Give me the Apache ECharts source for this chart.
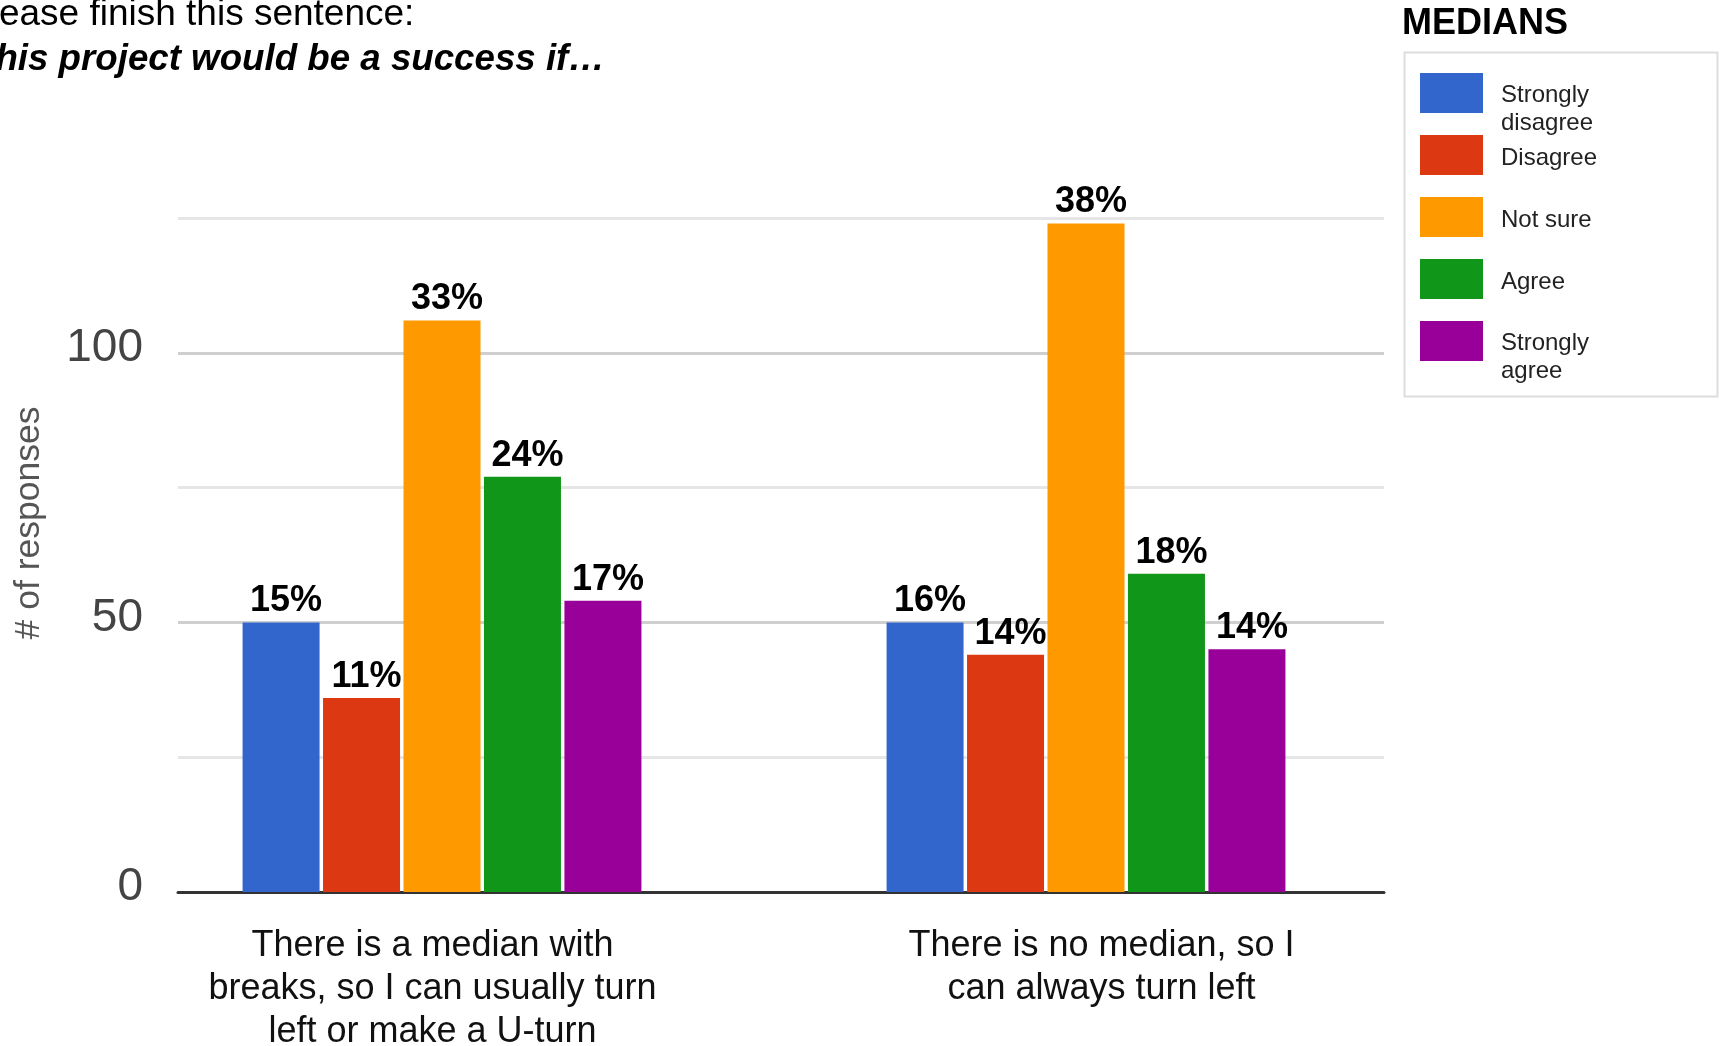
<!DOCTYPE html>
<html><head><meta charset="utf-8">
<script src="https://cdn.jsdelivr.net/npm/echarts@6/dist/echarts.min.js"></script>
<style>html,body{margin:0;padding:0;background:#fff}#c{width:1720px;height:1046px}</style>
</head><body><div id="c"></div>
<script>
// ---- data ----
const categories = [
  "There is a median with\nbreaks, so I can usually turn\nleft or make a U-turn",
  "There is no median, so I\ncan always turn left"
];
const seriesNames = ["Strongly disagree", "Disagree", "Not sure", "Agree", "Strongly agree"];
const legendLabels = ["Strongly\ndisagree", "Disagree", "Not sure", "Agree", "Strongly\nagree"];
const stronglyDisagree = [50, 50];
const disagree = [36, 44];
const notSure = [106, 124];
const agree = [77, 59];
const stronglyAgree = [54, 45];
const pctStronglyDisagree = ["15%", "16%"];
const pctDisagree = ["11%", "14%"];
const pctNotSure = ["33%", "38%"];
const pctAgree = ["24%", "18%"];
const pctStronglyAgree = ["17%", "14%"];
const yTickLabels = [0, 50, 100];
const colors = ["#3366cc", "#dc3912", "#ff9900", "#109618", "#990099"];
const titleLine1 = "Please finish this sentence:";
const titleLine2 = "This project would be a success if\u2026";
const legendTitle = "MEDIANS";
const yName = "# of responses";

const values = [stronglyDisagree, disagree, notSure, agree, stronglyAgree];
const pcts = [pctStronglyDisagree, pctDisagree, pctNotSure, pctAgree, pctStronglyAgree];

const FF = "'Liberation Sans', Arial, Helvetica, sans-serif";
const chart = echarts.init(document.getElementById('c'), null, {renderer: 'canvas'});

const legendTops = [63.5, 135, 197, 259, 311.5];

function legendText(i) {
  const lines = legendLabels[i].split('\n');
  const gap = lines.length > 1 ? '{g2| }' : '{g1| }';
  return gap + '\n' + lines.map(l => '{t|' + l + '}').join('\n');
}

const option = {
  animation: false,
  backgroundColor: '#ffffff',
  textStyle: {fontFamily: FF},
  title: {
    text: legendTitle, left: 1402, top: 6, padding: 0,
    textStyle: {fontFamily: FF, fontWeight: 'bold', fontSize: 36, color: '#000'}
  },
  graphic: [
    {type: 'text', left: -34, top: -4, style: {text: titleLine1, font: "37px " + FF, fill: '#000'}},
    {type: 'text', left: -27, top: 41, style: {text: titleLine2, font: "italic bold 36.7px " + FF, fill: '#000'}},
    {type: 'rect', left: 1402, top: 50, shape: {width: 313, height: 344}, style: {fill: 'none', stroke: '#dddddd', lineWidth: 2}, z: -1}
  ],
  legend: seriesNames.map((n, i) => ({
    data: [n], left: 1420, top: legendTops[i], padding: 0,
    orient: 'vertical', icon: 'rect', itemWidth: 63, itemHeight: 40,
    formatter: () => legendText(i),
    textStyle: {
      fontFamily: FF, fontSize: 24, color: '#222', padding: [0, 0, 0, 13],
      rich: {
        g2: {fontSize: 2, lineHeight: 33},
        g1: {fontSize: 2, lineHeight: 6},
        t: {fontFamily: FF, fontSize: 24, lineHeight: 28.5, color: '#222'}
      }
    }
  })),
  grid: [
    {left: 178, right: 336, top: 218, bottom: 154, containLabel: false, outerBoundsMode: 'none'},
    {left: 120, right: 312, top: 218, bottom: 154, containLabel: false, outerBoundsMode: 'none'},
    {left: 98, right: 284, top: 218, bottom: 154, containLabel: false, outerBoundsMode: 'none'}
  ],
  xAxis: [
    {type: 'category', gridIndex: 0, data: categories,
     axisLine: {show: true, lineStyle: {color: '#333', width: 3}},
     axisTick: {show: false}, axisLabel: {show: false}, splitLine: {show: false}},
    {type: 'category', gridIndex: 1, data: categories,
     axisLine: {show: false}, axisTick: {show: false}, splitLine: {show: false},
     axisLabel: {show: false}},
    {type: 'category', gridIndex: 2, data: categories,
     axisLine: {show: false}, axisTick: {show: false}, splitLine: {show: false},
     axisLabel: {show: true, interval: 0, margin: 33, fontFamily: FF, fontSize: 36, lineHeight: 43, color: '#111', align: 'center'}}
  ],
  yAxis: [
    {type: 'value', gridIndex: 0, min: 0, max: 125, interval: 25,
     name: yName, nameLocation: 'middle', nameGap: 131, nameRotate: 90,
     nameTextStyle: {fontFamily: FF, fontSize: 35.5, color: '#555', padding: [0, 0, 0, 64]},
     axisLine: {show: false}, axisTick: {show: false},
     axisLabel: {margin: 35, fontFamily: FF, fontSize: 46, color: '#444', verticalAlign: 'bottom', lineHeight: 9,
       formatter: v => yTickLabels.indexOf(v) >= 0 ? String(v) : ''},
     splitLine: {show: true, lineStyle: {color: ['#cfcfcf', '#e6e6e6'], width: 3}}},
    {type: 'value', gridIndex: 1, min: 0, max: 125, interval: 25, show: false, splitLine: {show: false}},
    {type: 'value', gridIndex: 2, min: 0, max: 125, interval: 25, show: false, splitLine: {show: false}}
  ],
  series: seriesNames.map((n, i) => ({
    name: n, type: 'bar', xAxisIndex: 1, yAxisIndex: 1,
    data: values[i], barWidth: 77, barGap: '4.5%',
    itemStyle: {color: colors[i]},
    label: {show: true, position: 'top', distance: 3, offset: [5, 0],
      fontFamily: FF, fontWeight: 'bold', fontSize: 36, color: '#000',
      formatter: p => pcts[i][p.dataIndex]}
  }))
};
chart.setOption(option);
</script>
</body></html>
